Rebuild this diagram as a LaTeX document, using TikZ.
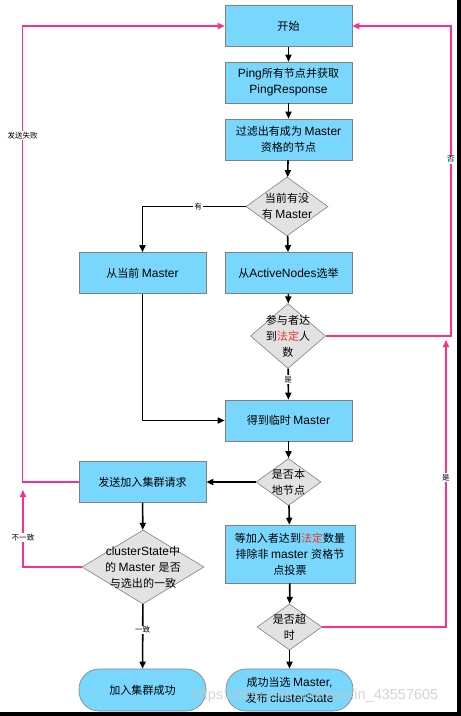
\documentclass[tikz,border=0pt]{standalone}
\usepackage{fontspec}
\setmainfont{Liberation Sans}
\newfontfamily\cjkfont{Noto Sans CJK SC}[Scale=0.92]
% CJK characters in Noto, the rest in Liberation Sans
\XeTeXinterchartokenstate=1
\newXeTeXintercharclass\cjkclass
\count255="4E00
\loop
  \XeTeXcharclass\count255=\cjkclass
  \ifnum\count255<"9FFF \advance\count255 by 1 \repeat
\XeTeXinterchartoks 0 \cjkclass = {\cjkfont}
\XeTeXinterchartoks 4095 \cjkclass = {\cjkfont}
\XeTeXinterchartoks \cjkclass 0 = {\rmfamily}
\XeTeXinterchartoks 4095 0 = {\rmfamily}
\usepackage{tikz}
\usetikzlibrary{arrows.meta}
\usetikzlibrary{shapes.geometric}
\definecolor{boxblue}{RGB}{121,215,253}
\definecolor{askgray}{RGB}{226,226,226}
\definecolor{retrypink}{RGB}{255,45,140}
\definecolor{lawred}{RGB}{232,58,40}

\begin{document}
\begin{tikzpicture}[x=1pt, y=-1pt, ->, >={Triangle[length=7pt, width=6pt]}, line width=1.6pt,
    font=\fontsize{12}{16}\selectfont,
    step box/.style = {draw=gray, line width=0.6pt, fill=boxblue, minimum width=127, minimum height=41, inner sep=0, align=center},
    end box/.style = {step box, rounded corners=20},
    ask/.style = {diamond, draw=gray, line width=0.6pt, fill=askgray, inner sep=0, label={[align=center]center:#1}},
    retry/.style = {draw=retrypink, line width=1.5pt, -{Triangle[length=7pt, width=6pt]}, color=retrypink},
    lbl/.style = {fill=white, text=black, inner sep=1pt, font=\fontsize{8.2}{9}\selectfont}]
    \useasboundingbox (0,0) rectangle (461,716);
    \fill[black, draw=none] (457,0) rectangle (461,716);
    \fill[black, draw=none] (0,712) rectangle (461,716);
    % Nodes

    \node[step box] (1) at (288.5, 26) {开始};
    \node[step box] (2) at (288.5, 82.5) {Ping所有节点并获取\\PingResponse};
    \node[step box] (3) at (288.5, 139.5) {过滤出有成为 Master\\资格的节点};
    \node[ask={当前有没\\有 Master}, minimum width=82, minimum height=59] (4) at (287, 206.5) {};

    \node[step box] (5) at (142.5, 273) {从当前 Master};
    \node[step box] (6) at (288.5, 273) {从ActiveNodes选举};
    \node[ask={参与者达\\到\textcolor{lawred}{法定}人\\数}, minimum width=75, minimum height=65] (7) at (288, 336) {};

    \node[step box] (8) at (288.5, 420.5) {得到临时 Master};
    \node[ask={是否本\\地节点}, minimum width=65, minimum height=47] (9) at (288.5, 482) {};
    \node[step box] (10) at (142.5, 482) {发送加入集群请求};

    \node[step box, minimum width=130, minimum height=58] (11) at (290, 554) {等加入者达到\textcolor{lawred}{法定}数量\\排除非 master 资格节\\点投票};
    \node[ask={是否超\\时}, minimum width=65, minimum height=46] (12) at (289.5, 627) {};
    \node[end box, minimum height=42] (13) at (289.5, 690) {成功当选 Master,\\发布 clusterState};

    \node[ask={clusterState中\\的 Master 是否\\与选出的一致}, minimum width=122, minimum height=74] (14) at (143, 567) {};
    \node[end box, minimum height=42] (15) at (142.5, 690) {加入集群成功};

    \coordinate (16) at (23, 490);
    \coordinate (17) at (446, 340);
    % Edges
    \draw (1) -- (2);
    \draw (2) -- (3);
    \draw (3) -- (4);
    \draw (4.west) -| node[pos=0.23, lbl] {有} (5.north);
    \draw (4) -- (6);
    \draw (6) -- (7);
    \draw (7) -- node[pos=0.35, lbl] {是} (8);
    \draw (5.south) |- (8.west);
    \draw (8) -- (9);
    \draw (9.west) -- (10.east);
    \draw (9) -- (11);
    \draw (11) -- (12);
    \draw (12) -- (13);
    \draw (10) -- (14);
    \draw (14) -- node[pos=0.4, lbl] {一致} (15);

    \draw[retry] (10.west) -- ++(-56,0) |- node[pos=0.38, lbl] {发送失败} (1.west);
    \draw[retry] (14.west) -| node[pos=0.69, lbl] {不一致} (16);
    \draw[retry] (7.east) -- ++(125,0) |- node[pos=0.285, lbl] {否} (1.east);
    \draw[retry] (12.east) -| node[pos=0.76, lbl] {是} (17);

    \node[text=gray!45, text opacity=0.75, font=\fontsize{14.5}{16}\selectfont] (18) at (315, 696) {https://blog.csdn.net/weixin\_43557605};

\end{tikzpicture}
\end{document}
